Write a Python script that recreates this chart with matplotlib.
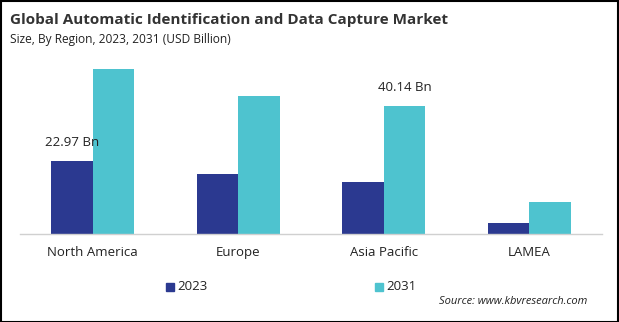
import numpy as np
import matplotlib
matplotlib.use("Agg")
import matplotlib.pyplot as plt
from matplotlib.patches import Rectangle

regions = ["North America", "Europe", "Asia Pacific", "LAMEA"]
years = ["2023", "2031"]
val_2023 = [22.97, 18.8, 16.3, 3.4]
val_2031 = [51.9, 43.5, 40.14, 10.0]
bar_labels = {(0, 0): "22.97 Bn", (2, 1): "40.14 Bn"}

c2023 = "#2B3990"
c2031 = "#4EC3CF"

plt.rcParams['font.family'] = ['Open Sans', 'DejaVu Sans']

fig = plt.figure(figsize=(6.19, 3.22), dpi=100)
ax = fig.add_axes([20/619, 1 - 233.7/322, 582/619, 190.5/322])

x = np.arange(len(regions))
w = 0.286
b1 = ax.bar(x - w/2, val_2023, w, color=c2023, label=years[0])
b2 = ax.bar(x + w/2, val_2031, w, color=c2031, label=years[1])

# value labels
for (i, s), txt in bar_labels.items():
    vals = val_2023 if s == 0 else val_2031
    xpos = x[i] - w/2 if s == 0 else x[i] + w/2
    ax.text(xpos, vals[i] + 3.8, txt, ha="center", va="bottom", fontsize=9.5, color="#222222")

ax.set_xlim(-0.5, 3.5)
ax.set_ylim(0, 60)
ax.set_yticks([])
ax.set_xticks(x)
ax.set_xticklabels(regions, fontsize=9.5, color="#222222")
ax.tick_params(axis="x", length=0, pad=9)
for sp in ["top", "right", "left"]:
    ax.spines[sp].set_visible(False)
ax.spines["bottom"].set_color("#d0d0d0")
ax.spines["bottom"].set_linewidth(1)

fig.text(10/619, 1 - 20/322, "Global Automatic Identification and Data Capture Market",
         fontsize=11, fontweight="bold", color="#333333", va="center")
fig.text(10/619, 1 - 39/322, "Size, By Region, 2023, 2031 (USD Billion)",
         fontsize=8.6, color="#222222", va="center")

# legend
for xp, col, lab in [(170, c2023, years[0]), (379, c2031, years[1])]:
    fig.patches.append(Rectangle((xp/619 - 4/619, 1 - 291/322), 8/619, 8/322,
                                 transform=fig.transFigure, color=col))
    fig.text(xp/619 + 7/619, 1 - 287/322, lab, fontsize=9.5, color="#222222", va="center")

fig.text(587/619, 1 - 302/322, "Source: www.kbvresearch.com", fontsize=8, style="italic",
         color="#222222", ha="right", va="center")

fig.patches.append(Rectangle((0.5/619, 0.5/322), 1 - 1.5/619, 1 - 1.5/322, transform=fig.transFigure,
                             fill=False, edgecolor="black", linewidth=1.5))

fig.savefig("out.png", dpi=100)
